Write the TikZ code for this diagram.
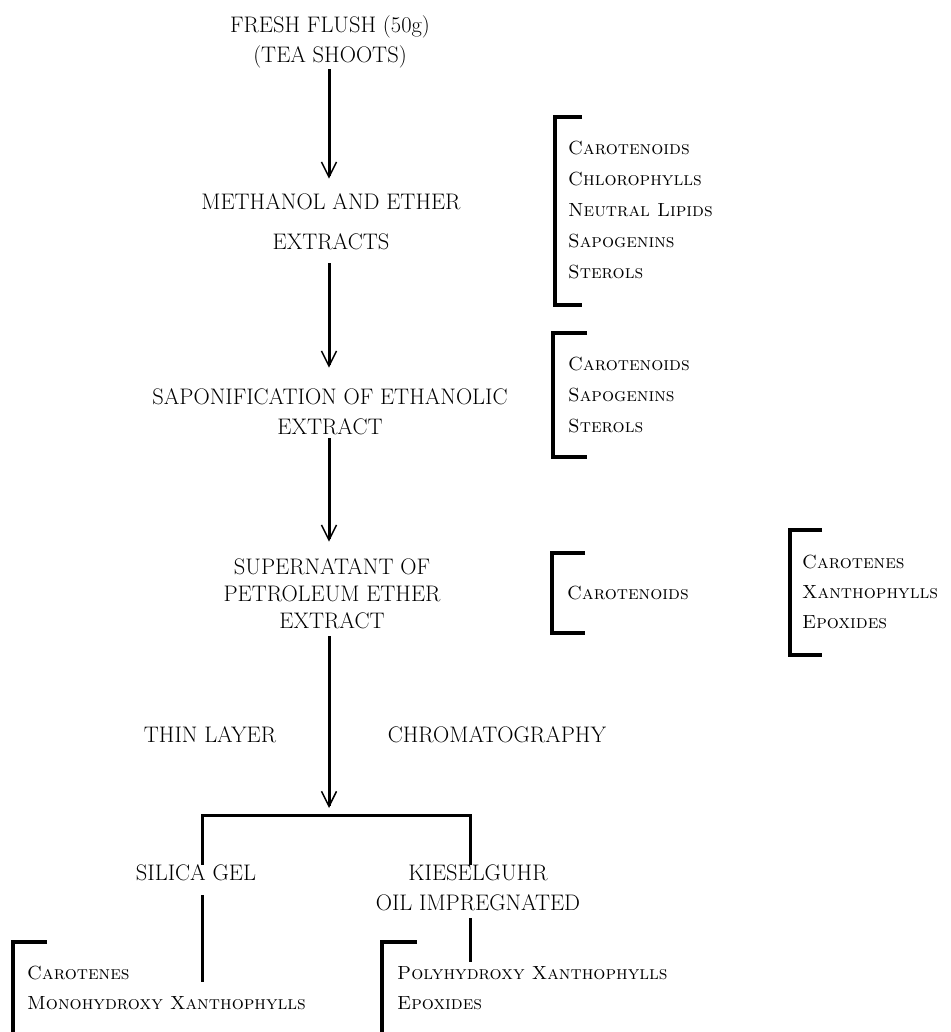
\documentclass[tikz,border=0pt]{standalone}
\usetikzlibrary{arrows.meta}

\begin{document}
\begin{tikzpicture}[x=1pt,y=-1pt,
    stage/.style={inner sep=0pt, align=center, font=\fontsize{22.5}{30}\selectfont},
    items/.style={inner sep=0pt, anchor=west, align=left, font=\fontsize{19}{31}\selectfont\scshape},
    flow/.style={line width=3pt, -{Straight Barb[length=15pt,width=15pt,line width=1.5pt]}},
    branch/.style={line width=3pt},
    brack/.style={line width=3.5pt}]
        \useasboundingbox (0,0) rectangle (950,1032);
        % main sequence
        \node[stage] (fresh) at (330,42) {FRESH FLUSH (50g)\\(TEA SHOOTS)};
        \node[stage] (meth) at (331,222) {METHANOL AND ETHER\\[10pt]EXTRACTS};
        \node[stage] (sapon) at (330,412) {SAPONIFICATION OF ETHANOLIC\\EXTRACT};
        \node[stage, font=\fontsize{22.5}{27}\selectfont] (super) at (332,594) {SUPERNATANT OF\\PETROLEUM ETHER\\EXTRACT};
        \node[stage] (thin) at (210,735) {THIN LAYER};
        \node[stage] (chrom) at (497,735) {CHROMATOGRAPHY};
        \node[stage] (silica) at (196,873) {SILICA GEL};
        \node[stage] (kiesel) at (478,888) {KIESELGUHR\\OIL IMPREGNATED};
        \coordinate (fork) at (329,815);
        \coordinate (sgend) at (202,982);
        \coordinate (kgend) at (470,962);
        % fractions
        \node[items] (mix) at (568,210.5) {Carotenoids\\Chlorophylls\\Neutral Lipids\\Sapogenins\\Sterols};
        \node[items] (unsap) at (568,395) {Carotenoids\\Sapogenins\\Sterols};
        \node[items] (carot) at (567,593) {Carotenoids};
        \node[items, font=\fontsize{19}{30}\selectfont\scshape] (groups) at (802,592) {Carotenes\\Xanthophylls\\Epoxides};
        \node[items, font=\fontsize{19}{30}\selectfont\scshape] (sgfrac) at (27,988) {Carotenes\\Monohydroxy Xanthophylls};
        \node[items, font=\fontsize{19}{30}\selectfont\scshape] (kgfrac) at (397,988) {Polyhydroxy Xanthophylls\\Epoxides};
        % arrows
        \draw[flow] ([yshift=-1pt]fresh.south -| fork) -- ([yshift=15pt]meth.north -| fork);
        \draw[flow] ([yshift=-13pt]meth.south -| fork) -- ([yshift=21pt]sapon.north -| fork);
        \draw[flow] ([yshift=-3pt]sapon.south -| fork) -- ([yshift=17pt]super.north -| fork);
        \draw[flow, shorten >=7pt] ([yshift=-7pt]super.south -| fork) -- (fork);
        \draw[branch] (silica.north -| sgend) |- (fork) -| (kiesel.north -| kgend);
        \draw[branch] ([yshift=-14pt]silica.south -| sgend) -- (sgend);
        \draw[branch] ([yshift=-7pt]kiesel.south -| kgend) -- (kgend);
        % brackets
        \foreach \x/\t/\b/\w in {555/117/305/27, 553/333/457/34, 552/553/633/33, 790/530/655/32}
            \draw[brack] (\x+\w,\t) -| (\x,\b) -- ++(\w,0);
        \foreach \x/\w in {13/34, 382/35}
            \draw[brack] (\x+\w,942) -| (\x,1040);
\end{tikzpicture}
\end{document}
